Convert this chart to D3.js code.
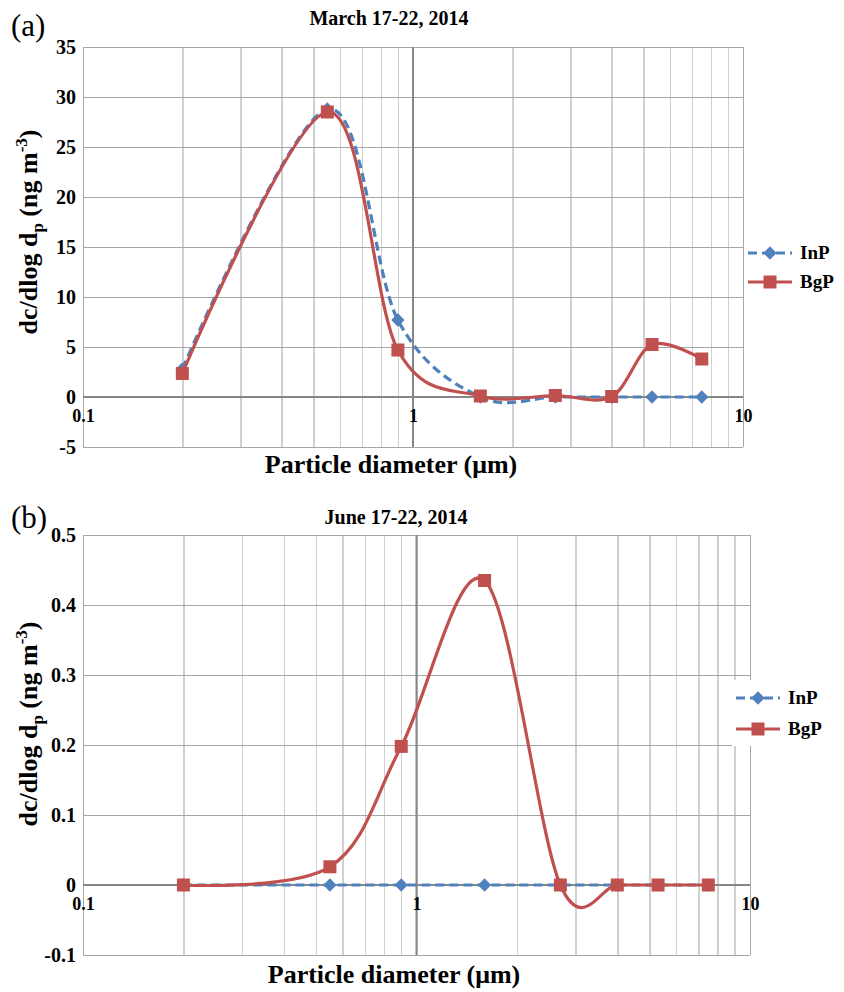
<!DOCTYPE html>
<html>
<head>
<meta charset="utf-8">
<script src="https://cdn.jsdelivr.net/npm/d3@7"></script>
<style>
    body { margin: 0; background: #fff; }
    svg text { font-family: "Liberation Serif", "Times New Roman", serif; fill: #000; }
    .grid line { shape-rendering: crispEdges; }
    .grid path { display: none; }
    .ticks path { display: none; }
</style>
</head>
<body>
<div id="chart"></div>
<script>
// particle size bins (um), same for both campaigns
var sizeBins = [0.2, 0.55, 0.9, 1.6, 2.7, 4.0, 5.3, 7.5];

// March 17-22, 2014
var marchInP = [2.8, 28.8, 7.7, 0, 0, 0, 0, 0];
var marchBgP = [2.35, 28.5, 4.7, 0.1, 0.15, 0.05, 5.25, 3.8];
var marchYTicks = [-5, 0, 5, 10, 15, 20, 25, 30, 35];

// June 17-22, 2014
var juneInP = [0, 0, 0, 0, 0, 0, 0, 0];
var juneBgP = [0, 0.026, 0.198, 0.435, 0, 0, 0, 0];
var juneYTicks = [-0.1, 0, 0.1, 0.2, 0.3, 0.4, 0.5];

var xLabelTicks = [0.1, 1, 10];
var seriesNames = ["InP", "BgP"];

var blue = "#4f81bd";
var red = "#c0504d";

var svg = d3.select("#chart")
    .append("svg")
    .attr("width", 844)
    .attr("height", 992);

function toPoints(values)
{
    return sizeBins.map(function(x, i) {
        return { x: x, y: values[i] };
    });
}

function drawPanel(p)
{
    var xScale = d3.scaleLog().domain([0.1, 10]).range([p.left, p.right]);
    var yScale = d3.scaleLinear().domain(p.yDomain).range([p.bottom, p.top]);
    var g = svg.append("g").attr("class", "panel");

    // vertical minor + major grid
    g.append("g")
    .attr("class", "grid vertical")
    .attr("transform", "translate(0," + p.bottom + ")")
    .call(d3.axisBottom(xScale)
        .tickValues(xScale.ticks())
        .tickSize(-(p.bottom - p.top))
        .tickFormat("")
    )
    .selectAll("line")
    .attr("stroke", function(d) {
        return (d === 0.1 || d === 10) ? "#a6a6a6" : "#d0d0d0";
    })
    .attr("stroke-width", 1.5);

    // horizontal grid
    g.append("g")
    .attr("class", "grid horizontal")
    .attr("transform", "translate(" + p.left + ",0)")
    .call(d3.axisLeft(yScale)
        .tickValues(p.yTicks)
        .tickSize(-(p.right - p.left))
        .tickFormat("")
    )
    .selectAll("line")
    .attr("stroke", "#a6a6a6")
    .attr("stroke-width", 1.5);

    // axis lines (x crosses at 0, y crosses at 1)
    g.append("line")
    .attr("x1", p.left).attr("x2", p.right)
    .attr("y1", yScale(0)).attr("y2", yScale(0))
    .attr("stroke", "#868686").attr("stroke-width", 2);

    g.append("line")
    .attr("x1", xScale(1)).attr("x2", xScale(1))
    .attr("y1", p.top).attr("y2", p.bottom)
    .attr("stroke", "#868686").attr("stroke-width", 2);

    // y tick labels
    g.append("g")
    .attr("class", "ticks")
    .attr("transform", "translate(" + p.left + ",0)")
    .call(d3.axisLeft(yScale)
        .tickValues(p.yTicks)
        .tickSize(0)
        .tickPadding(7)
        .tickFormat(function(d) { return String(d); })
    )
    .selectAll("text")
    .style("font-size", "20px")
    .style("font-weight", "bold");

    // x tick labels sit under the zero line
    g.append("g")
    .attr("class", "ticks")
    .attr("transform", "translate(0," + yScale(0) + ")")
    .call(d3.axisBottom(xScale)
        .tickValues(xLabelTicks)
        .tickSize(0)
        .tickPadding(12)
        .tickFormat(function(d) { return String(d); })
    )
    .selectAll("text")
    .style("font-size", "18px")
    .style("font-weight", "bold");

    var line = d3.line()
        .curve(d3.curveCardinal.tension(0))
        .x(function(d) { return xScale(d.x); })
        .y(function(d) { return yScale(d.y); });

    // InP
    g.append("path")
    .datum(toPoints(p.inp))
    .attr("d", line)
    .attr("fill", "none")
    .attr("stroke", blue)
    .attr("stroke-width", 3.2)
    .attr("stroke-dasharray", "9,5");

    g.selectAll("path.inpMarker")
    .data(toPoints(p.inp))
    .enter().append("path")
    .attr("class", "inpMarker")
    .attr("d", d3.symbol(d3.symbolSquare, 88))
    .attr("transform", function(d) {
        return "translate(" + xScale(d.x) + "," + yScale(d.y) + ") rotate(45)";
    })
    .attr("fill", blue);

    // BgP
    g.append("path")
    .datum(toPoints(p.bgp))
    .attr("d", line)
    .attr("fill", "none")
    .attr("stroke", red)
    .attr("stroke-width", 3.2);

    g.selectAll("path.bgpMarker")
    .data(toPoints(p.bgp))
    .enter().append("path")
    .attr("class", "bgpMarker")
    .attr("d", d3.symbol(d3.symbolSquare, 169))
    .attr("transform", function(d) {
        return "translate(" + xScale(d.x) + "," + yScale(d.y) + ")";
    })
    .attr("fill", red);

    // titles
    svg.append("text")
    .attr("x", p.titleX).attr("y", p.titleY)
    .attr("text-anchor", "middle")
    .style("font-size", "20px")
    .style("font-weight", "bold")
    .text(p.title);

    svg.append("text")
    .attr("x", 11).attr("y", p.panelY)
    .style("font-size", "31px")
    .text(p.panel);

    svg.append("text")
    .attr("x", p.xTitleX).attr("y", p.xTitleY)
    .attr("text-anchor", "middle")
    .style("font-size", "26px")
    .style("font-weight", "bold")
    .text("Particle diameter (\u03bcm)");

    var yTitle = svg.append("text")
    .attr("transform", "translate(" + 37 + "," + p.yTitleY + ") rotate(-90)")
    .attr("text-anchor", "middle")
    .style("font-size", "26px")
    .style("font-weight", "bold");
    yTitle.append("tspan").text("dc/dlog d");
    yTitle.append("tspan").attr("dy", 6).style("font-size", "17px").text("p");
    yTitle.append("tspan").attr("dy", -6).text(" (ng m");
    yTitle.append("tspan").attr("dy", -10).style("font-size", "17px").text("-3");
    yTitle.append("tspan").attr("dy", 10).text(")");

    // legend
    var legend = svg.append("g")
        .attr("transform", "translate(" + p.legendX + "," + p.legendY + ")");

    legend.append("rect")
    .attr("x", -4).attr("y", -18)
    .attr("width", 110).attr("height", 66)
    .attr("fill", "#fff");

    seriesNames.forEach(function(name, i) {
        var row = legend.append("g").attr("transform", "translate(0," + (i * p.legendGap) + ")");
        row.append("line")
        .attr("x1", 0).attr("x2", 44)
        .attr("stroke", i === 0 ? blue : red)
        .attr("stroke-width", 3.2)
        .attr("stroke-dasharray", i === 0 ? "9,5" : null);
        row.append("path")
        .attr("d", d3.symbol(d3.symbolSquare, i === 0 ? 88 : 169))
        .attr("transform", "translate(22,0)" + (i === 0 ? " rotate(45)" : ""))
        .attr("fill", i === 0 ? blue : red);
        row.append("text")
        .attr("x", 52).attr("y", 6)
        .style("font-size", "19px")
        .style("font-weight", "bold")
        .text(name);
    });
}

drawPanel({
    left: 83, right: 743, top: 47, bottom: 447,
    yDomain: [-5, 35], yTicks: marchYTicks,
    inp: marchInP, bgp: marchBgP,
    title: "March 17-22, 2014", titleX: 389, titleY: 25,
    panel: "(a)", panelY: 36,
    xTitleX: 391, xTitleY: 473,
    yTitleY: 232,
    legendX: 748, legendY: 253, legendGap: 29
});

drawPanel({
    left: 83, right: 750, top: 535, bottom: 955,
    yDomain: [-0.1, 0.5], yTicks: juneYTicks,
    inp: juneInP, bgp: juneBgP,
    title: "June 17-22, 2014", titleX: 396, titleY: 524,
    panel: "(b)", panelY: 528,
    xTitleX: 394, xTitleY: 983,
    yTitleY: 724,
    legendX: 736, legendY: 698, legendGap: 31
});
</script>
</body>
</html>
